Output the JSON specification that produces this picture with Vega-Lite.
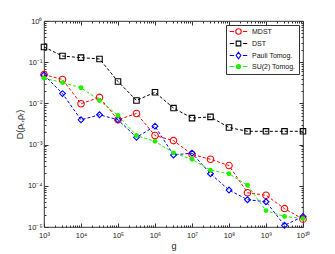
{
  "$schema": "https://vega.github.io/schema/vega-lite/v6.json",
  "width": 259,
  "height": 206,
  "autosize": {"type": "none"},
  "padding": {"left": 44, "top": 21, "right": 32, "bottom": 27},
  "background": "white",
  "config": {
    "font": "Liberation Sans",
    "view": {"stroke": "black", "strokeWidth": 0.8},
    "axis": {"domain": false, "grid": false, "labelFont": "Liberation Sans", "titleFont": "Liberation Sans", "labelColor": "#222", "titleColor": "#222", "tickColor": "#333", "labelFontSize": 7.5, "titleFontSize": 9, "titleFontWeight": "normal"}
  },
  "data": {"values": [
    {"g": 1000, "series": "MDST", "D": 0.050},
    {"g": 3162.28, "series": "MDST", "D": 0.038},
    {"g": 10000, "series": "MDST", "D": 0.0098},
    {"g": 31622.8, "series": "MDST", "D": 0.0140},
    {"g": 100000, "series": "MDST", "D": 0.0040},
    {"g": 316228, "series": "MDST", "D": 0.0057},
    {"g": 1000000, "series": "MDST", "D": 0.00166},
    {"g": 3162280, "series": "MDST", "D": 0.00125},
    {"g": 10000000, "series": "MDST", "D": 0.00058},
    {"g": 31622800, "series": "MDST", "D": 0.00044},
    {"g": 100000000, "series": "MDST", "D": 0.00031},
    {"g": 316228000, "series": "MDST", "D": 0.000068},
    {"g": 1000000000, "series": "MDST", "D": 0.000059},
    {"g": 3162280000, "series": "MDST", "D": 0.000028},
    {"g": 10000000000, "series": "MDST", "D": 0.0000155},
    {"g": 1000, "series": "DST", "D": 0.234},
    {"g": 3162.28, "series": "DST", "D": 0.141},
    {"g": 10000, "series": "DST", "D": 0.129},
    {"g": 31622.8, "series": "DST", "D": 0.120},
    {"g": 100000, "series": "DST", "D": 0.034},
    {"g": 316228, "series": "DST", "D": 0.0118},
    {"g": 1000000, "series": "DST", "D": 0.0186},
    {"g": 3162280, "series": "DST", "D": 0.0077},
    {"g": 10000000, "series": "DST", "D": 0.0044},
    {"g": 31622800, "series": "DST", "D": 0.0047},
    {"g": 100000000, "series": "DST", "D": 0.0026},
    {"g": 316228000, "series": "DST", "D": 0.0021},
    {"g": 1000000000, "series": "DST", "D": 0.0021},
    {"g": 3162280000, "series": "DST", "D": 0.0021},
    {"g": 10000000000, "series": "DST", "D": 0.0021},
    {"g": 1000, "series": "Pauli Tomog.", "D": 0.049},
    {"g": 3162.28, "series": "Pauli Tomog.", "D": 0.0173},
    {"g": 10000, "series": "Pauli Tomog.", "D": 0.0040},
    {"g": 31622.8, "series": "Pauli Tomog.", "D": 0.0053},
    {"g": 100000, "series": "Pauli Tomog.", "D": 0.0040},
    {"g": 316228, "series": "Pauli Tomog.", "D": 0.0015},
    {"g": 1000000, "series": "Pauli Tomog.", "D": 0.0028},
    {"g": 3162280, "series": "Pauli Tomog.", "D": 0.00056},
    {"g": 10000000, "series": "Pauli Tomog.", "D": 0.00062},
    {"g": 31622800, "series": "Pauli Tomog.", "D": 0.000196},
    {"g": 100000000, "series": "Pauli Tomog.", "D": 0.000079},
    {"g": 316228000, "series": "Pauli Tomog.", "D": 0.000046},
    {"g": 1000000000, "series": "Pauli Tomog.", "D": 0.000041},
    {"g": 3162280000, "series": "Pauli Tomog.", "D": 0.000011},
    {"g": 10000000000, "series": "Pauli Tomog.", "D": 0.000018},
    {"g": 1000, "series": "SU(2) Tomog.", "D": 0.041},
    {"g": 3162.28, "series": "SU(2) Tomog.", "D": 0.032},
    {"g": 10000, "series": "SU(2) Tomog.", "D": 0.024},
    {"g": 31622.8, "series": "SU(2) Tomog.", "D": 0.0118},
    {"g": 100000, "series": "SU(2) Tomog.", "D": 0.0051},
    {"g": 316228, "series": "SU(2) Tomog.", "D": 0.00166},
    {"g": 1000000, "series": "SU(2) Tomog.", "D": 0.0012},
    {"g": 3162280, "series": "SU(2) Tomog.", "D": 0.00063},
    {"g": 10000000, "series": "SU(2) Tomog.", "D": 0.00044},
    {"g": 31622800, "series": "SU(2) Tomog.", "D": 0.00024},
    {"g": 100000000, "series": "SU(2) Tomog.", "D": 0.000196},
    {"g": 316228000, "series": "SU(2) Tomog.", "D": 0.000103},
    {"g": 1000000000, "series": "SU(2) Tomog.", "D": 0.000025},
    {"g": 3162280000, "series": "SU(2) Tomog.", "D": 0.000018},
    {"g": 10000000000, "series": "SU(2) Tomog.", "D": 0.000016}
  ]},
  "resolve": {"axis": {"x": "independent", "y": "independent"}},
  "layer": [
    {
      "mark": {"type": "line", "strokeDash": [3, 2], "strokeWidth": 1, "clip": true},
      "encoding": {
        "x": {"field": "g", "type": "quantitative",
          "scale": {"type": "log", "domain": [1000, 10000000000], "nice": false},
          "axis": {"orient": "bottom", "title": "g", "titlePadding": 1,
            "values": [1000,2000,3000,4000,5000,6000,7000,8000,9000,10000,20000,30000,40000,50000,60000,70000,80000,90000,100000,200000,300000,400000,500000,600000,700000,800000,900000,1000000,2000000,3000000,4000000,5000000,6000000,7000000,8000000,9000000,10000000,20000000,30000000,40000000,50000000,60000000,70000000,80000000,90000000,100000000,200000000,300000000,400000000,500000000,600000000,700000000,800000000,900000000,1000000000,2000000000,3000000000,4000000000,5000000000,6000000000,7000000000,8000000000,9000000000,10000000000],
            "labelExpr": "datum.value==1000?'10³':datum.value==10000?'10⁴':datum.value==100000?'10⁵':datum.value==1000000?'10⁶':datum.value==10000000?'10⁷':datum.value==100000000?'10⁸':datum.value==1000000000?'10⁹':datum.value==10000000000?'10¹⁰':''",
            "tickSize": {"condition": {"test": "abs(log(datum.value)/LN10 - round(log(datum.value)/LN10)) < 0.0001", "value": -4}, "value": -2},
            "labelPadding": 8, "labelOverlap": false, "labelFlush": false}},
        "y": {"field": "D", "type": "quantitative",
          "scale": {"type": "log", "domain": [0.00001, 1], "nice": false},
          "axis": {"orient": "left", "title": "D(ρₜ,ρᵣ)", "titlePadding": 3,
            "values": [0.00001,0.00002,0.00003,0.00004,0.00005,0.00006,0.00007,0.00008,0.00009,0.0001,0.0002,0.0003,0.0004,0.0005,0.0006,0.0007,0.0008,0.0009,0.001,0.002,0.003,0.004,0.005,0.006,0.007,0.008,0.009,0.01,0.02,0.03,0.04,0.05,0.06,0.07,0.08,0.09,0.1,0.2,0.3,0.4,0.5,0.6,0.7,0.8,0.9,1],
            "labelExpr": "datum.value==1?'10⁰':datum.value==0.1?'10⁻¹':datum.value==0.01?'10⁻²':datum.value==0.001?'10⁻³':datum.value==0.0001?'10⁻⁴':datum.value==0.00001?'10⁻⁵':''",
            "tickSize": {"condition": {"test": "abs(log(datum.value)/LN10 - round(log(datum.value)/LN10)) < 0.0001", "value": -4}, "value": -2},
            "labelPadding": 6, "labelOverlap": false, "labelFlush": false}},
        "stroke": {"field": "series", "type": "nominal",
          "scale": {"domain": ["MDST", "DST", "Pauli Tomog.", "SU(2) Tomog."], "range": ["#ff0000", "#000000", "#0000ff", "#22ee00"]},
          "legend": {"title": null, "orient": "top-right", "offset": 4, "padding": 3, "strokeColor": "#333", "fillColor": "white",
            "labelFont": "Liberation Sans", "labelFontSize": 7, "labelColor": "#111", "symbolSize": 30, "symbolOffset": 6, "labelOffset": 10, "rowPadding": 1,
            "encode": {"symbols": {"update": {
              "shape": {"signal": "datum.value==='MDST'?'M-3.2,0H-1.6M1.6,0H3.2M1,0A1,1,0,1,1,-1,0A1,1,0,1,1,1,0Z':datum.value==='DST'?'M-3.2,0H-1.6M1.6,0H3.2M-0.85,-0.85H0.85V0.85H-0.85Z':datum.value==='Pauli Tomog.'?'M-3.2,0H-1.6M1.6,0H3.2M0,-1.2L0.85,0L0,1.2L-0.85,0Z':'M-3.2,0H-1.6M1.6,0H3.2M0.75,0A0.75,0.75,0,1,1,-0.75,0A0.75,0.75,0,1,1,0.75,0Z'"},
              "fill": {"signal": "datum.value==='SU(2) Tomog.'?'#22ee00':'transparent'"},
              "strokeWidth": {"value": 1.1},
              "strokeDash": {"value": []}
            }}}}},
        "detail": {"field": "series"}
      }
    },
    {
      "transform": [{"filter": "datum.series==='MDST'"}],
      "mark": {"type": "point", "shape": "circle", "filled": false, "stroke": "#ff0000", "strokeWidth": 1.1, "size": 42, "opacity": 1},
      "encoding": {
        "x": {"field": "g", "type": "quantitative", "scale": {"type": "log", "domain": [1000, 10000000000], "nice": false},
          "axis": {"orient": "top", "title": null, "labels": false,
            "values": [1000,2000,3000,4000,5000,6000,7000,8000,9000,10000,20000,30000,40000,50000,60000,70000,80000,90000,100000,200000,300000,400000,500000,600000,700000,800000,900000,1000000,2000000,3000000,4000000,5000000,6000000,7000000,8000000,9000000,10000000,20000000,30000000,40000000,50000000,60000000,70000000,80000000,90000000,100000000,200000000,300000000,400000000,500000000,600000000,700000000,800000000,900000000,1000000000,2000000000,3000000000,4000000000,5000000000,6000000000,7000000000,8000000000,9000000000,10000000000],
            "tickSize": {"condition": {"test": "abs(log(datum.value)/LN10 - round(log(datum.value)/LN10)) < 0.0001", "value": -4}, "value": -2}}},
        "y": {"field": "D", "type": "quantitative", "scale": {"type": "log", "domain": [0.00001, 1], "nice": false},
          "axis": {"orient": "right", "title": null, "labels": false,
            "values": [0.00001,0.00002,0.00003,0.00004,0.00005,0.00006,0.00007,0.00008,0.00009,0.0001,0.0002,0.0003,0.0004,0.0005,0.0006,0.0007,0.0008,0.0009,0.001,0.002,0.003,0.004,0.005,0.006,0.007,0.008,0.009,0.01,0.02,0.03,0.04,0.05,0.06,0.07,0.08,0.09,0.1,0.2,0.3,0.4,0.5,0.6,0.7,0.8,0.9,1],
            "tickSize": {"condition": {"test": "abs(log(datum.value)/LN10 - round(log(datum.value)/LN10)) < 0.0001", "value": -4}, "value": -2}}}
      }
    },
    {
      "transform": [{"filter": "datum.series==='DST'"}],
      "mark": {"type": "point", "shape": "square", "filled": false, "stroke": "#000000", "strokeWidth": 1.1, "size": 30, "opacity": 1},
      "encoding": {
        "x": {"field": "g", "type": "quantitative", "axis": null},
        "y": {"field": "D", "type": "quantitative", "axis": null}
      }
    },
    {
      "transform": [{"filter": "datum.series==='Pauli Tomog.'"}],
      "mark": {"type": "point", "shape": "diamond", "filled": false, "stroke": "#0000ff", "strokeWidth": 1.1, "size": 34, "opacity": 1},
      "encoding": {
        "x": {"field": "g", "type": "quantitative", "axis": null},
        "y": {"field": "D", "type": "quantitative", "axis": null}
      }
    },
    {
      "transform": [{"filter": "datum.series==='SU(2) Tomog.'"}],
      "mark": {"type": "point", "shape": "circle", "filled": true, "fill": "#22ee00", "size": 24, "opacity": 1},
      "encoding": {
        "x": {"field": "g", "type": "quantitative", "axis": null},
        "y": {"field": "D", "type": "quantitative", "axis": null}
      }
    }
  ]
}
